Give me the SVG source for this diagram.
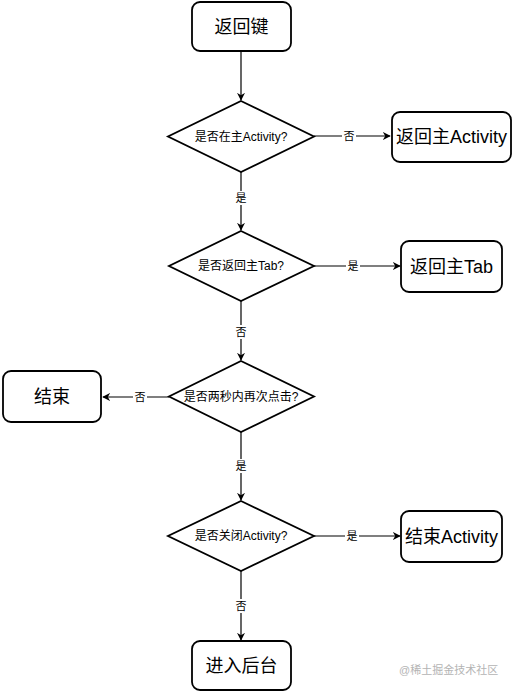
<svg xmlns="http://www.w3.org/2000/svg" width="512" height="692" viewBox="0 0 512 692">
<style>
.box{fill:#fff;stroke:#000;stroke-width:1.8}
.dia{fill:#fff;stroke:#000;stroke-width:1.8}
.bt{font-family:"Liberation Sans","Noto Sans CJK SC",sans-serif;font-size:18px;fill:#000;text-anchor:middle;dominant-baseline:central}
.dt{font-family:"Liberation Sans","Noto Sans CJK SC",sans-serif;font-size:12px;fill:#000;text-anchor:middle;dominant-baseline:central}
.el{font-family:"Liberation Sans","Noto Sans CJK SC",sans-serif;font-size:11px;fill:#000;text-anchor:middle;dominant-baseline:central}
.lb{fill:#fff}
.edge{fill:none;stroke:#000;stroke-width:1.2;marker-end:url(#arr)}
.wm{font-family:"Liberation Sans","Noto Sans CJK SC",sans-serif;font-size:11px;fill:#b4b4b4;text-anchor:start;dominant-baseline:central}
</style>
<defs>
<marker id="arr" viewBox="0 0 10 10" refX="9" refY="5" markerWidth="8" markerHeight="8" markerUnits="userSpaceOnUse" orient="auto">
<path d="M0,0 L10,5 L0,10 L3,5 Z" fill="#000"/>
</marker>
</defs>
<g id="connectors">
<path class="edge" d="M241,52 L241,100"/>
<path class="edge" d="M314,136 L390,136"/>
<path class="edge" d="M241,172 L241,230"/>
<path class="edge" d="M314,266 L400,266"/>
<path class="edge" d="M241,301 L241,360"/>
<path class="edge" d="M169,397 L103,397"/>
<path class="edge" d="M241,431 L241,500"/>
<path class="edge" d="M314,536 L400,536"/>
<path class="edge" d="M241,571 L241,640"/>
<rect class="lb" x="342" y="129" width="14" height="14"/><text class="el" x="349" y="136">否</text>
<rect class="lb" x="234" y="191" width="14" height="14"/><text class="el" x="241" y="198">是</text>
<rect class="lb" x="346" y="259" width="14" height="14"/><text class="el" x="353" y="266">是</text>
<rect class="lb" x="234" y="325" width="14" height="14"/><text class="el" x="241" y="332">否</text>
<rect class="lb" x="133" y="390" width="14" height="14"/><text class="el" x="140" y="397">否</text>
<rect class="lb" x="234" y="459" width="14" height="14"/><text class="el" x="241" y="466">是</text>
<rect class="lb" x="345" y="529" width="14" height="14"/><text class="el" x="352" y="536">是</text>
<rect class="lb" x="234" y="599" width="14" height="14"/><text class="el" x="241" y="606">否</text>
</g>
<g id="n-back">
<rect class="box" x="192" y="2" width="99" height="49" rx="8"/>
<text class="bt" x="241.5" y="27">返回键</text>
</g>
<g id="d-main-activity">
<polygon class="dia" points="241,101 314,136.5 241,172 168,136.5"/>
<text class="dt" x="241" y="136.5">是否在主Activity?</text>
</g>
<g id="n-back-main-activity">
<rect class="box" x="392" y="112" width="119" height="50" rx="8"/>
<text class="bt" x="451.5" y="137">返回主Activity</text>
</g>
<g id="d-main-tab">
<polygon class="dia" points="241,231 314,266 241,301 169,266"/>
<text class="dt" x="241" y="266">是否返回主Tab?</text>
</g>
<g id="n-back-main-tab">
<rect class="box" x="401" y="241" width="101" height="51" rx="8"/>
<text class="bt" x="451.5" y="266.5">返回主Tab</text>
</g>
<g id="d-double-click">
<polygon class="dia" points="241,361 314,396.5 241,432 169,396.5"/>
<text class="dt" x="241" y="396.5">是否两秒内再次点击?</text>
</g>
<g id="n-end">
<rect class="box" x="3" y="371" width="98" height="51" rx="8"/>
<text class="bt" x="52" y="396.5">结束</text>
</g>
<g id="d-close-activity">
<polygon class="dia" points="241,501 314,536 241,571 168,536"/>
<text class="dt" x="241" y="536">是否关闭Activity?</text>
</g>
<g id="n-end-activity">
<rect class="box" x="401" y="511" width="101" height="51" rx="8"/>
<text class="bt" x="451.5" y="536.5">结束Activity</text>
</g>
<g id="n-background">
<rect class="box" x="192" y="641" width="99" height="49" rx="8"/>
<text class="bt" x="241.5" y="666">进入后台</text>
</g>
<text class="wm" x="399" y="670">@稀土掘金技术社区</text>
</svg>
